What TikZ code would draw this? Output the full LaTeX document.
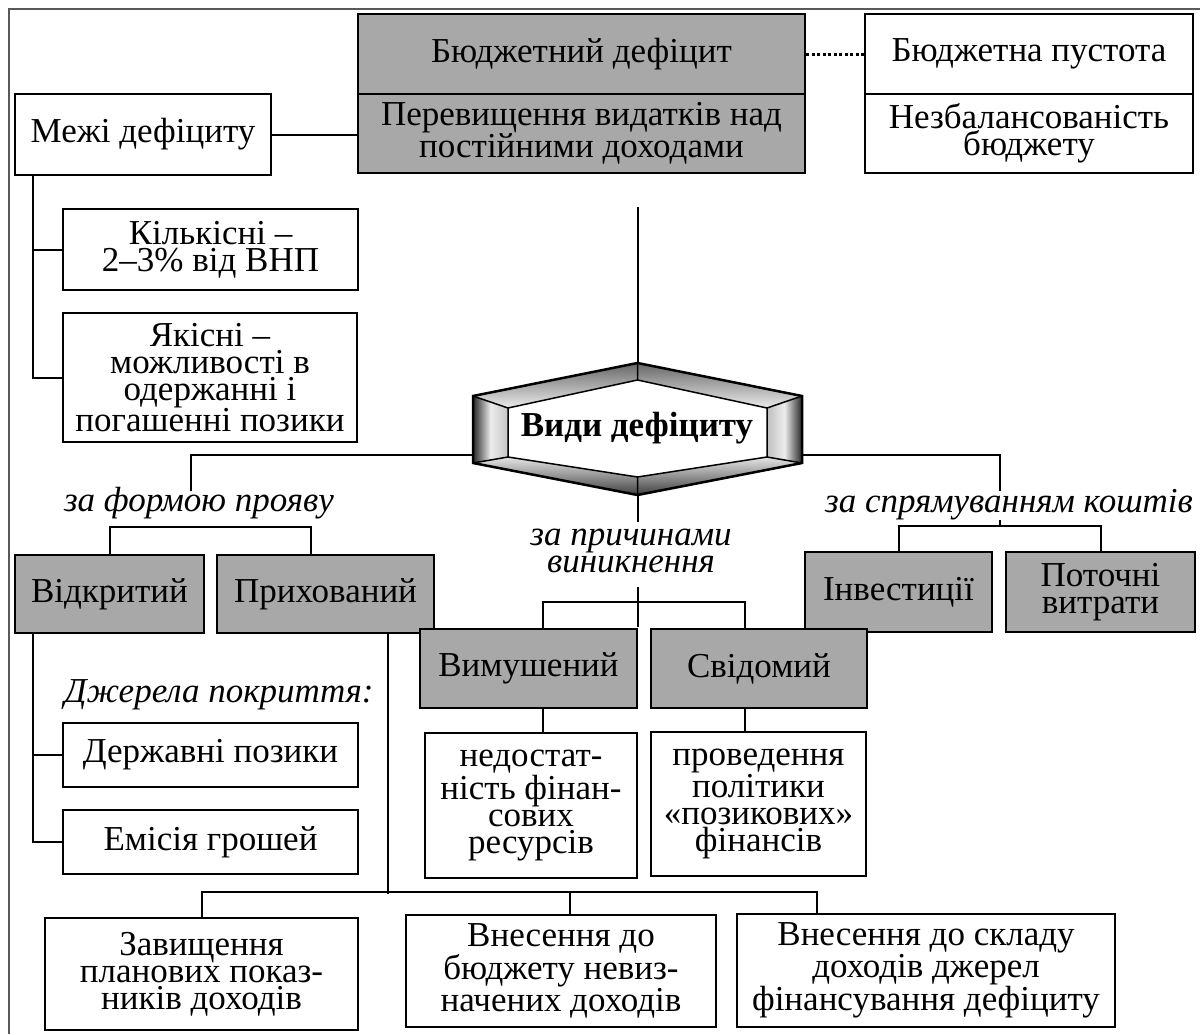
\documentclass[tikz,border=0pt]{standalone}
\usepackage{fontspec}
\setmainfont{Liberation Serif}
\usetikzlibrary{calc}
\definecolor{boxgrey}{RGB}{168,168,168}
\begin{document}
\begin{tikzpicture}[x=1pt,y=-1pt,
  every node/.style={font=\fontsize{35}{27}\selectfont, align=center, inner sep=0pt},
  wbox/.style={draw, line width=2.5pt, fill=white},
  gbox/.style={draw, line width=2.5pt, fill=boxgrey},
  conn/.style={line width=2pt},
  lbl/.style={font=\fontsize{35}{27}\selectfont\itshape}
]
\useasboundingbox (0,0) rectangle (1200,1034);
\fill[white] (0,0) rectangle (1200,1034);
% frame
\draw[line width=2pt, black!65] (9,1034) -- (9,9) -- (1200,9);

% top boxes
\node[gbox, minimum width=447, minimum height=80] (deficit) at (581.5,54) {Бюджетний дефіцит};
\node[gbox, minimum width=447, minimum height=79] (excess) at (581.5,133.5) {Перевищення видатків над\\постійними доходами};
\node[wbox, minimum width=328, minimum height=80] (void) at (1029,54) {Бюджетна пустота};
\node[wbox, minimum width=328, minimum height=79] (imbal) at (1029,133.5) {Незбалансованість\\бюджету};
\node[wbox, minimum width=256, minimum height=81] (limits) at (143,134.5) {Межі дефіциту};
\node[wbox, minimum width=295, minimum height=81] (quant) at (210.5,249.5) {Кількісні –\\2–3\% від ВНП};
\node[wbox, minimum width=294, minimum height=129] (qual) at (210,377.5) {Якісні –\\можливості в\\одержанні і\\погашенні позики};

\draw[conn] (limits.east) -- (limits.east -| excess.west);
\draw[line width=3pt, dash pattern=on 3pt off 2.5pt] (deficit.east) -- (void.west);
\coordinate (ltrunk) at ($(limits.south west)+(19,0)$);
\draw[conn] (ltrunk) |- (qual.west);
\draw[conn] (quant.west) -- (quant.west -| ltrunk);

% hexagon
\coordinate (hexT) at (637.5,363);
\coordinate (hexUR) at (802,396);
\coordinate (hexLR) at (802,463);
\coordinate (hexB) at (637.5,495);
\coordinate (hexLL) at (473,463);
\coordinate (hexUL) at (473,396);
\coordinate (inT) at (637.5,380);
\coordinate (inUR) at (767,408);
\coordinate (inLR) at (767,457);
\coordinate (inB) at (637.5,477);
\coordinate (inLL) at (508,457);
\coordinate (inUL) at (508,408);
\coordinate (hexL) at (473,455);
\coordinate (hexR) at (802,455);
\shade[left color=black!85, right color=gray!45, middle color=gray!15] (hexUL) -- (hexLL) -- (inLL) -- (inUL) -- cycle;
\shade[left color=gray!50, right color=black!85, middle color=gray!15] (inUR) -- (inLR) -- (hexLR) -- (hexUR) -- cycle;
\shade[top color=black!60, bottom color=gray!15] (hexT) -- (hexUL) -- (inUL) -- (inT) -- cycle;
\shade[top color=black!60, bottom color=gray!15] (hexT) -- (hexUR) -- (inUR) -- (inT) -- cycle;
\shade[top color=gray!20, bottom color=black!75] (hexLL) -- (hexB) -- (inB) -- (inLL) -- cycle;
\shade[top color=gray!20, bottom color=black!75] (hexLR) -- (hexB) -- (inB) -- (inLR) -- cycle;
\fill[white] (inT) -- (inUR) -- (inLR) -- (inB) -- (inLL) -- (inUL) -- cycle;
\draw[line width=1.5pt, line join=miter] (inT) -- (inUR) -- (inLR) -- (inB) -- (inLL) -- (inUL) -- cycle;
\draw[line width=1.5pt] (hexT) -- (inT) (hexUR) -- (inUR) (hexLR) -- (inLR) (hexB) -- (inB) (hexLL) -- (inLL) (hexUL) -- (inUL);
\draw[line width=2.5pt, line join=miter] (hexT) -- (hexUR) -- (hexLR) -- (hexB) -- (hexLL) -- (hexUL) -- cycle;
\node[font=\fontsize{35}{27}\selectfont\bfseries] (hex) at (637,428) {Види дефіциту};

\coordinate (vtop) at (637.5,207);
\draw[conn] (vtop) -- (hexT);

% labels
\node[lbl] (form) at (199,503) {за формою прояву};
\node[lbl] (cause) at (631,551) {за причинами\\виникнення};
\node[lbl] (dir) at (1009,505) {за спрямуванням коштів};
\node[lbl] (srclbl) at (219,695) {Джерела покриття:};

% second level boxes
\node[gbox, minimum width=189, minimum height=78] (open) at (109.5,594) {Відкритий};
\node[gbox, minimum width=217, minimum height=78] (hidden) at (325.5,594) {Прихований};
\node[gbox, minimum width=187, minimum height=80] (invest) at (898.5,592) {Інвестиції};
\node[gbox, minimum width=189, minimum height=80] (current) at (1100.5,592) {Поточні\\витрати};
\node[gbox, minimum width=217, minimum height=79] (forced) at (528.5,668.5) {Вимушений};
\node[gbox, minimum width=216, minimum height=79] (consc) at (759,668.5) {Свідомий};

\node[wbox, minimum width=295, minimum height=64] (loans) at (210.5,755) {Державні позики};
\node[wbox, minimum width=295, minimum height=64] (emis) at (210.5,842) {Емісія грошей};
\node[wbox, minimum width=212, minimum height=145] (lack) at (531,805.5) {недостат-\\ність фінан-\\сових\\ресурсів};
\node[wbox, minimum width=215, minimum height=144] (policy) at (758.5,804) {проведення\\політики\\«позикових»\\фінансів};
\node[wbox, minimum width=313, minimum height=112] (overst) at (201.5,974) {Завищення\\планових показ-\\ників доходів};
\node[wbox, minimum width=310, minimum height=112] (undet) at (561,971) {Внесення до\\бюджету невиз-\\начених доходів};
\node[wbox, minimum width=378, minimum height=113] (finsrc) at (926,970.5) {Внесення до складу\\доходів джерел\\фінансування дефіциту};

% connectors from hexagon
\draw[conn] (hexL) -| ($(open.north)+(81.5,-63)$);
\draw[conn] (hexR) -| ($(invest.north)+(101.5,-60)$);
\draw[conn] (hexB) -- ++(0,27);
\draw[conn] ($(invest.north)+(101.5,-25)$) -- ++(0,-6);
\draw[conn] (open.north) |- ($(hidden.north)+(-14.5,-27)$) -- ($(hidden.north)+(-14.5,0)$);
\draw[conn] (invest.north) |- ($(current.north)+(0,-25)$) -- (current.north);
\draw[conn] ($(forced.north)+(14.5,0)$) |- ($(consc.north)+(-14,-26)$) -- ($(consc.north)+(-14,0)$);
\draw[conn] ($(hexB)+(0,92)$) -- ($(hexB)+(0,132)$);

% open trunk
\coordinate (otrunk) at ($(open.south west)+(19,0)$);
\draw[conn] (otrunk) |- (emis.west);
\draw[conn] (loans.west) -- (loans.west -| otrunk);

% causes
\draw[conn] ($(forced.south)+(14.5,0)$) -- ($(lack.north)+(12,0)$);
\draw[conn] ($(consc.south)+(-14,0)$) -- ($(policy.north)+(-13.5,0)$);

% hidden trunk and bus
\coordinate (htrunk) at ($(hidden.south east)+(-47.5,0)$);
\draw[conn] (htrunk) -- ++(0,260) coordinate (busj);
\draw[conn] (overst.north) |- ($(finsrc.north)+(-109,-21)$) -- ($(finsrc.north)+(-109,0)$);
\draw[conn] ($(undet.north)+(9,0)$) -- ($(undet.north)+(9,-22)$);
\end{tikzpicture}
\end{document}
